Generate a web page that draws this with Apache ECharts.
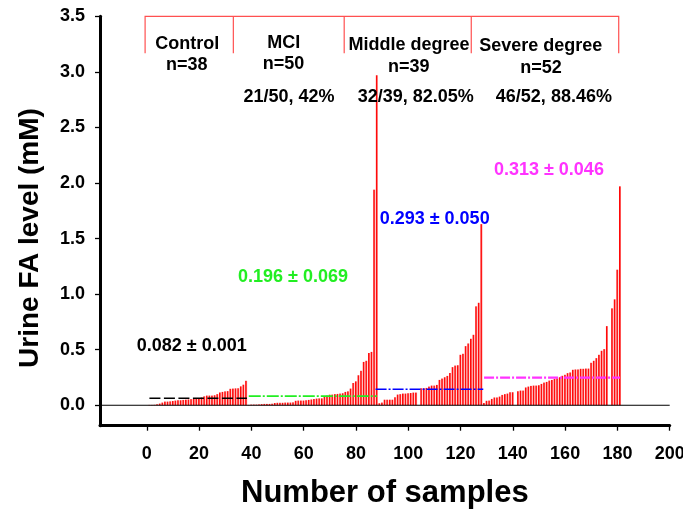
<!DOCTYPE html>
<html><head><meta charset="utf-8">
<script src="https://cdn.jsdelivr.net/npm/echarts@6/dist/echarts.min.js"></script>
<style>html,body{margin:0;padding:0;background:#fff}#c{width:683px;height:514px}</style>
</head><body><div id="c"></div>
<script>
// ---- data ----
const controlStart = 1;
const control = [0.003,0.003,0.004,0.009,0.015,0.024,0.033,0.033,0.035,0.038,0.042,0.045,0.045,0.048,0.05,0.052,0.055,0.058,0.062,0.065,0.07,0.08,0.087,0.087,0.087,0.09,0.10,0.115,0.12,0.125,0.127,0.148,0.15,0.152,0.153,0.17,0.185,0.22];
const mciStart = 39;
const mci = [0.003,0.006,0.006,0.006,0.008,0.01,0.012,0.012,0.012,0.014,0.02,0.022,0.022,0.022,0.024,0.024,0.024,0.026,0.04,0.042,0.042,0.042,0.045,0.048,0.052,0.056,0.06,0.062,0.062,0.075,0.087,0.095,0.096,0.1,0.102,0.105,0.108,0.12,0.125,0.15,0.2,0.215,0.27,0.31,0.39,0.40,0.47,0.48,1.94,2.97];
const middleStart = 89;
const middle = [0.018,0.024,0.05,0.05,0.05,0.05,0.072,0.096,0.1,0.105,0.105,0.108,0.11,0.114,0.114,null,0.153,0.153,0.156,0.168,0.177,0.177,0.183,0.228,0.24,0.252,0.264,0.29,0.343,0.357,0.36,0.454,0.463,0.532,0.556,0.598,0.634,0.89,0.922,1.63];
const severeStart = 129;
const severe = [0.02,0.04,0.042,0.057,0.07,0.07,0.078,0.093,0.1,0.105,0.117,0.117,null,0.126,0.132,0.132,0.16,0.168,0.174,0.177,0.177,0.18,0.192,0.204,0.21,0.222,0.228,0.237,0.243,0.252,0.265,0.274,0.289,0.295,0.319,0.322,0.322,0.328,0.328,0.33,0.33,0.382,0.4,0.424,0.454,0.49,0.505,0.712,null,0.872,0.953,1.22,1.97];

const groupNames = ['Control','MCI','Middle degree','Severe degree'];
const groupN = ['n=38','n=50','n=39','n=52'];
const positives = ['21/50, 42%','32/39, 82.05%','46/52, 88.46%'];
const meanTexts = ['0.082 ± 0.001','0.196 ± 0.069','0.293 ± 0.050','0.313 ± 0.046'];
// dashed mean lines: [from sample, to sample, level]
const meanLines = [[1,38.3,0.063],[39,88,0.082],[87.5,128.7,0.144],[129,181,0.248]];
const bracketBounds = [-0.65,33.1,75.5,124.1,180.5];

const xTicks = [0,20,40,60,80,100,120,140,160,180,200];
const yTicks = [0,0.5,1,1.5,2,2.5,3,3.5];

// ---- layout / style ----
const FONT = '"Liberation Sans", Arial, sans-serif';
const meanColors = ['#000000','#22ee22','#0000ff','#ff33ff'];
const meanDash = [[11,3.5],[12,2,2,2],[11,2,2,2],[10,2,2,2]];
const meanWidth = [1.3,1.6,1.6,2.2];
const namePos = [[15.5,3.25],[52.4,3.26],[100.3,3.245],[150.7,3.236]];
const nPos = [[15.3,3.06],[52.3,3.07],[100.2,3.045],[150.8,3.034]];
const posPos = [[54.4,2.775],[102.9,2.775],[155.7,2.775]];
const meanPos = [[17.2,0.536],[55.9,1.155],[110.1,1.677],[153.8,2.118]];
const X_MIN = -17.9, Y_MIN = -0.184;

function toBars(start, vals){
  const out = [];
  vals.forEach((v,i)=>{ if(v!=null) out.push([start+i, v]); });
  return out;
}
const bars = [].concat(toBars(controlStart,control), toBars(mciStart,mci), toBars(middleStart,middle), toBars(severeStart,severe));

const labels = [];
groupNames.forEach((t,i)=>labels.push({name:t, value:namePos[i], label:{color:'#000'}}));
groupN.forEach((t,i)=>labels.push({name:t, value:nPos[i], label:{color:'#000'}}));
positives.forEach((t,i)=>labels.push({name:t, value:posPos[i], label:{color:'#000'}}));
meanTexts.forEach((t,i)=>labels.push({name:t, value:meanPos[i], label:{color:meanColors[i]}}));

const bTop = 3.5, bBot = 3.167;
const bracketData = [{coords:[[bracketBounds[0],bBot],[bracketBounds[0],bTop],[bracketBounds[4],bTop],[bracketBounds[4],bBot]]}];
for (let i=1;i<4;i++) bracketData.push({coords:[[bracketBounds[i],bTop],[bracketBounds[i],bBot]]});

const series = [
  {type:'bar', data:bars, barWidth:2, silent:true, z:2,
   itemStyle:{color:new echarts.graphic.LinearGradient(0,0,1,0,[{offset:0,color:'#ff0000'},{offset:0.5,color:'#ff1010'},{offset:1,color:'#ff9a9a'}])}},
  {type:'line', data:[[X_MIN,0],[200,0]], symbol:'none', silent:true, z:3, lineStyle:{color:'#000',width:1}},
  {type:'lines', coordinateSystem:'cartesian2d', polyline:true, silent:true, z:3, clip:false,
   data:bracketData, lineStyle:{color:'#ff5050', width:1.2, opacity:1}},
  {type:'scatter', symbolSize:0, silent:true, z:10, data:labels,
   itemStyle:{opacity:1},
   label:{show:true, position:'inside', formatter:'{b}', opacity:1, textBorderWidth:0,
     fontFamily:FONT, fontWeight:'bold', fontSize:18}}
];
meanLines.forEach((m,i)=>{
  series.push({type:'line', data:[[m[0],m[2]],[m[1],m[2]]], symbol:'none', silent:true, z:5,
    lineStyle:{color:meanColors[i], width:meanWidth[i], type:meanDash[i]}});
});

const chart = echarts.init(document.getElementById('c'), null, {renderer:'canvas'});
chart.setOption({
  animation:false,
  backgroundColor:'#fff',
  grid:{left:100, right:13.3, top:16.3, bottom:88.3, outerBoundsMode:'none'},
  xAxis:{type:'value', min:X_MIN, max:200,
    axisLine:{show:true, onZero:false, lineStyle:{color:'#000', width:3}},
    axisTick:{show:true, customValues:xTicks, length:5, lineStyle:{color:'#000', width:1.3}},
    axisLabel:{customValues:xTicks, margin:19, color:'#000', fontFamily:FONT, fontWeight:'bold', fontSize:18},
    splitLine:{show:false},
    name:'Number of samples', nameLocation:'middle', nameGap:52,
    nameTextStyle:{color:'#000', fontFamily:FONT, fontWeight:'bold', fontSize:31}},
  yAxis:{type:'value', min:Y_MIN, max:3.5,
    axisLine:{show:true, onZero:false, lineStyle:{color:'#000', width:3}},
    axisTick:{show:true, customValues:yTicks, length:5, lineStyle:{color:'#000', width:1.3}},
    axisLabel:{customValues:yTicks, margin:15, color:'#000', fontFamily:FONT, fontWeight:'bold', fontSize:18,
      formatter:v=>v.toFixed(1)},
    splitLine:{show:false}},
  graphic:[{type:'text', x:30, y:238, rotation:Math.PI/2, silent:true,
    style:{text:'Urine FA level (mM)', fill:'#000', font:'bold 28px '+FONT, textAlign:'center', textVerticalAlign:'middle'}}],
  series:series
});
</script></body></html>
